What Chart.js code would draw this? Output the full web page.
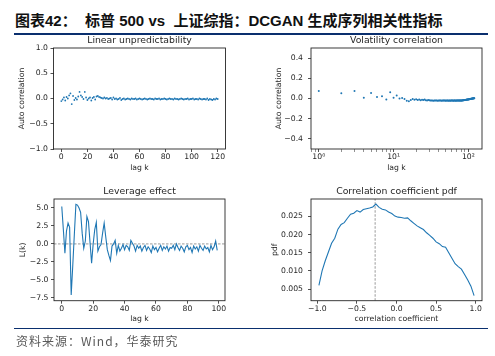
<!DOCTYPE html>
<html><head><meta charset="utf-8">
<script src="https://cdn.jsdelivr.net/npm/chart.js@4/dist/chart.umd.min.js"></script>
<style>
html,body{margin:0;padding:0;background:#fff;}
body{width:495px;height:356px;position:relative;overflow:hidden;}
#title{position:absolute;left:15px;top:10.7px;font:bold 15px "Liberation Sans","Noto Sans CJK SC",sans-serif;color:#111;white-space:pre;line-height:20px;}
#l1{position:absolute;left:14px;top:32.5px;width:474px;height:2px;background:#0a2f6e;}
#l2{position:absolute;left:14px;top:327.5px;width:474px;height:1.7px;background:#0a2f6e;}
#src{position:absolute;left:16px;top:332.7px;font:12px "Noto Sans CJK SC",sans-serif;color:#595959;letter-spacing:1px;line-height:16px;white-space:pre;}
canvas{position:absolute;}
</style></head><body>
<div id="title">图表42：  标普 500 vs  上证综指：DCGAN 生成序列相关性指标</div>
<div id="l1"></div>
<canvas id="c1" width="250" height="150" style="left:0;top:30px"></canvas>
<canvas id="c2" width="245" height="150" style="left:250px;top:30px"></canvas>
<canvas id="c3" width="250" height="160" style="left:0;top:175px"></canvas>
<canvas id="c4" width="245" height="160" style="left:250px;top:175px"></canvas>
<div id="l2"></div>
<div id="src">资料来源：Wind，华泰研究</div>
<script>
// ---------- data ----------
// Linear unpredictability: autocorrelation for lag k = 0..120
const linAuto = [
-0.05,-0.02,0.02,-0.04,0.03,0.00,0.06,0.10,-0.11,0.05,
-0.03,0.01,-0.02,0.04,0.13,0.06,0.03,-0.01,0.13,0.02,
-0.03,0.00,0.02,-0.04,0.01,0.03,-0.02,0.04,0.05,0.03,
0.02,0.01,0.00,0.02,0.00,0.01,-0.01,0.00,0.01,-0.02,
0.02,-0.01,0.00,-0.02,-0.01,0.01,-0.03,-0.01,0.00,-0.02,
-0.01,0.00,-0.01,-0.02,0.00,-0.01,-0.01,0.00,-0.02,-0.01,
0.00,-0.01,-0.02,-0.01,0.00,-0.01,-0.02,-0.01,0.00,-0.01,
-0.01,-0.02,0.00,-0.01,-0.01,0.00,-0.02,-0.01,-0.01,0.00,
-0.01,-0.02,-0.01,0.00,-0.01,-0.01,-0.02,0.00,-0.01,-0.01,
-0.02,-0.01,0.00,-0.01,-0.02,-0.01,-0.01,0.00,-0.02,-0.01,
-0.01,0.00,-0.02,-0.01,-0.01,-0.02,0.00,-0.01,-0.02,-0.01,
-0.01,-0.02,0.00,-0.03,-0.01,-0.02,-0.03,-0.01,-0.02,0.00,
-0.01];
const linXTicks = [0,20,40,60,80,100,120];
const linXLabels = ['0','20','40','60','80','100','120'];
const linYTicks = [-1,-0.5,0,0.5,1];
const linYLabels = ['\u22121.0','\u22120.5','0.0','0.5','1.0'];

// Volatility correlation: lag k = 1..120
const volAuto = [
0.075,0.052,0.075,0.008,0.055,0.016,0.022,-0.010,0.062,0.007,
0.030,0.000,0.006,-0.004,-0.022,-0.026,-0.014,-0.006,-0.012,-0.008,
-0.016,-0.010,-0.018,-0.012,-0.015,-0.010,-0.018,-0.021,-0.015,-0.018,
-0.019,-0.021,-0.020,-0.022,-0.019,-0.020,-0.021,-0.019,-0.022,-0.020,
-0.021,-0.019,-0.020,-0.022,-0.020,-0.021,-0.019,-0.021,-0.020,-0.022,
-0.020,-0.021,-0.019,-0.022,-0.021,-0.020,-0.022,-0.019,-0.021,-0.020,
-0.021,-0.020,-0.022,-0.020,-0.019,-0.021,-0.020,-0.022,-0.021,-0.020,
-0.019,-0.021,-0.020,-0.021,-0.019,-0.020,-0.021,-0.019,-0.020,-0.019,
-0.020,-0.019,-0.019,-0.018,-0.018,-0.017,-0.017,-0.016,-0.016,-0.015,
-0.015,-0.014,-0.013,-0.013,-0.012,-0.011,-0.011,-0.010,-0.009,-0.009,
-0.008,-0.007,-0.007,-0.006,-0.005,-0.005,-0.004,-0.003,-0.003,-0.002,
-0.002,-0.001,0.000,0.000,0.001,0.001,0.002,0.002,0.003,0.003];
const volXMajor = [1,10,100];
const volXLabels = ['10\u2070','10\u00b9','10\u00b2'];
const volXMinor = [0.8,0.9,2,3,4,5,6,7,8,9,20,30,40,50,60,70,80,90];
const volYTicks = [-0.4,-0.2,0,0.2,0.4];
const volYLabels = ['\u22120.4','\u22120.2','0.0','0.2','0.4'];

// Leverage effect L(k), k = 0..99
const levL = [
5.2,2.0,-1.3,1.8,2.9,2.3,-7.1,-3.0,1.3,5.5,
5.4,5.0,4.4,1.5,-0.6,0.4,3.8,3.1,0.2,-2.7,
0.0,2.0,3.0,-1.0,-0.4,-0.1,1.5,2.9,1.0,-0.8,
-1.6,-2.3,-0.3,0.0,0.5,-1.3,-0.2,-1.0,-0.6,-0.1,
-0.8,-0.2,-0.4,-0.9,0.5,0.1,-0.3,-1.0,-0.2,-0.6,
-0.3,-1.0,-0.5,-0.2,-0.9,-0.4,-0.7,-1.2,-0.3,-0.8,
-0.5,-1.1,-0.6,-0.2,-0.9,-0.4,-0.7,-0.3,-1.0,-0.5,
-0.6,-0.2,-0.8,0.0,-0.5,-0.9,-0.3,-0.6,-1.1,-0.4,
-0.2,-0.8,-0.5,-1.2,-0.3,-0.7,-0.4,-1.0,-0.2,-0.6,
-0.9,-0.3,-0.7,-0.5,-1.1,-0.2,-0.8,-0.4,0.4,-0.9];
const levRef = 0;
const levXTicks = [0,20,40,60,80,100];
const levXLabels = ['0','20','40','60','80','100'];
const levYTicks = [-7.5,-5,-2.5,0,2.5,5];
const levYLabels = ['\u22127.5','\u22125.0','\u22122.5','0.0','2.5','5.0'];

// Correlation coefficient pdf
const pdfX = [-0.98,-0.94,-0.90,-0.86,-0.82,-0.78,-0.74,-0.70,-0.66,-0.62,
-0.58,-0.54,-0.50,-0.46,-0.42,-0.38,-0.34,-0.30,-0.26,-0.22,
-0.18,-0.14,-0.10,-0.06,-0.02,0.02,0.06,0.10,0.14,0.18,
0.22,0.26,0.30,0.34,0.38,0.42,0.46,0.50,0.54,0.58,
0.62,0.66,0.70,0.74,0.78,0.82,0.86,0.90,0.94,0.98];
const pdfY = [0.0060,0.0100,0.0128,0.0152,0.0176,0.0190,0.0215,0.0228,0.0233,0.0245,
0.0256,0.0259,0.0266,0.0262,0.0269,0.0271,0.0273,0.0276,0.0284,0.0275,
0.0270,0.0268,0.0262,0.0258,0.0251,0.0248,0.0247,0.0245,0.0246,0.0238,
0.0231,0.0224,0.0219,0.0214,0.0205,0.0198,0.0190,0.0180,0.0175,0.0167,
0.0165,0.0150,0.0135,0.0120,0.0112,0.0105,0.0090,0.0075,0.0058,0.0032];
const pdfMode = -0.27;
const pdfXTicks = [-1,-0.5,0,0.5,1];
const pdfXLabels = ['\u22121.0','\u22120.5','0.0','0.5','1.0'];
const pdfYTicks = [0.005,0.010,0.015,0.020,0.025];
const pdfYLabels = ['0.005','0.010','0.015','0.020','0.025'];

// ---------- drawing ----------
const FONT = 'DejaVu Sans';
const TXT = '#262626';
const BLUE = '#1f77b4';

const frame = {id:'frame', afterDraw(c){
  const a=c.chartArea, x=c.ctx; x.save(); x.strokeStyle=TXT; x.lineWidth=0.9;
  x.strokeRect(a.left,a.top,a.right-a.left,a.bottom-a.top); x.restore();
}};

function axis(o, horiz){
  return {
    type:o.type||'linear', min:o.min, max:o.max, bounds:'data',
    afterFit(s){ if(horiz) s.height=o.size; else s.width=o.size; },
    afterBuildTicks(s){ s.ticks = o.ticks.map(v=>({value:v})); },
    ticks:{autoSkip:false, maxRotation:0, minRotation:0, padding:o.pad, color:TXT,
      font:{family:FONT,size:7.7}, callback:(v,i)=>o.labels[i]},
    grid:{display:true, drawOnChartArea:false, drawTicks:true, tickLength:3, color:TXT,
      lineWidth:o.lw||0.8},
    border:{display:false},
    title:{display:true, text:o.title, color:TXT, font:{family:FONT,size:7.7},
      padding: horiz?{top:0,bottom:o.tpad}:{top:o.tpad,bottom:0}}
  };
}

function make(id, title, tpad, padRight, datasets, xs, ys){
  return new Chart(document.getElementById(id), {
    type:'scatter',
    data:{datasets},
    options:{
      responsive:false, animation:false, devicePixelRatio:1,
      layout:{padding:{left:0,right:padRight,top:0,bottom:0}},
      plugins:{legend:{display:false}, tooltip:{enabled:false},
        title:{display:true, text:title, fullSize:false, color:TXT,
          font:{family:FONT,size:9.3,weight:'normal'}, padding:tpad}},
      scales:{x:axis(xs,true), y:axis(ys,false)}
    },
    plugins:[frame]
  });
}

// Chart 1
make('c1','Linear unpredictability',{top:5.12,bottom:1.72},24.5,
  [{data:linAuto.map((v,i)=>({x:i,y:v})), pointRadius:0.9, pointBorderWidth:0, backgroundColor:BLUE, borderColor:BLUE}],
  {min:-6,max:126,size:31,ticks:linXTicks,labels:linXLabels,pad:0.5,title:'lag k',tpad:7.4},
  {min:-1,max:1,size:53.5,ticks:linYTicks,labels:linYLabels,pad:2.5,title:'Auto correlation',tpad:17});

// Chart 2
const volTicks = volXMajor.concat(volXMinor).sort((a,b)=>a-b);
const volLab = volTicks.map(v=>{const j=volXMajor.indexOf(v); return j>=0?volXLabels[j]:'';});
make('c2','Volatility correlation',{top:5.12,bottom:1.72},13,
  [{data:volAuto.map((v,i)=>({x:i+1,y:v})), pointRadius:1, pointBorderWidth:0, backgroundColor:BLUE, borderColor:BLUE}],
  {type:'logarithmic',min:0.787,max:152,size:31,ticks:volTicks,labels:volLab,pad:0.5,title:'lag k',tpad:7.7,
   lw:(ctx)=> (ctx.tick && volXMajor.indexOf(ctx.tick.value)>=0) ? 0.8 : 0.5},
  {min:-0.5,max:0.5,size:61,ticks:volYTicks,labels:volYLabels,pad:5,title:'Auto correlation',tpad:24.7});

// Chart 3
const levXMin=-4.95, levXMax=103.95;
make('c3','Leverage effect',{top:11.12,bottom:1.72},25,
  [{data:levL.map((v,i)=>({x:i,y:v})), showLine:true, pointRadius:0, borderWidth:1.1, borderColor:BLUE, tension:0},
   {data:[{x:levXMin,y:levRef},{x:levXMax,y:levRef}], showLine:true, pointRadius:0, borderWidth:0.8, borderColor:'#808080', borderDash:[2.5,1.5]}],
  {min:levXMin,max:levXMax,size:34.3,ticks:levXTicks,labels:levXLabels,pad:0.5,title:'lag k',tpad:11.4},
  {min:-7.9,max:6.25,size:54,ticks:levYTicks,labels:levYLabels,pad:2.5,title:'L(k)',tpad:18.7});

// Chart 4
const pdfYMin=0.0018, pdfYMax=0.0298;
make('c4','Correlation coefficient pdf',{top:11.12,bottom:1.72},13,
  [{data:pdfX.map((x,i)=>({x,y:pdfY[i]})), showLine:true, pointRadius:0, borderWidth:1.1, borderColor:BLUE, tension:0},
   {data:[{x:pdfMode,y:pdfYMin},{x:pdfMode,y:pdfYMax}], showLine:true, pointRadius:0, borderWidth:0.8, borderColor:'#808080', borderDash:[2.5,1.5]}],
  {min:-1.08,max:1.08,size:34.3,ticks:pdfXTicks,labels:pdfXLabels,pad:0.5,title:'correlation coefficient',tpad:11.4},
  {min:pdfYMin,max:pdfYMax,size:61,ticks:pdfYTicks,labels:pdfYLabels,pad:5,title:'pdf',tpad:20.4});
</script>
</body></html>
